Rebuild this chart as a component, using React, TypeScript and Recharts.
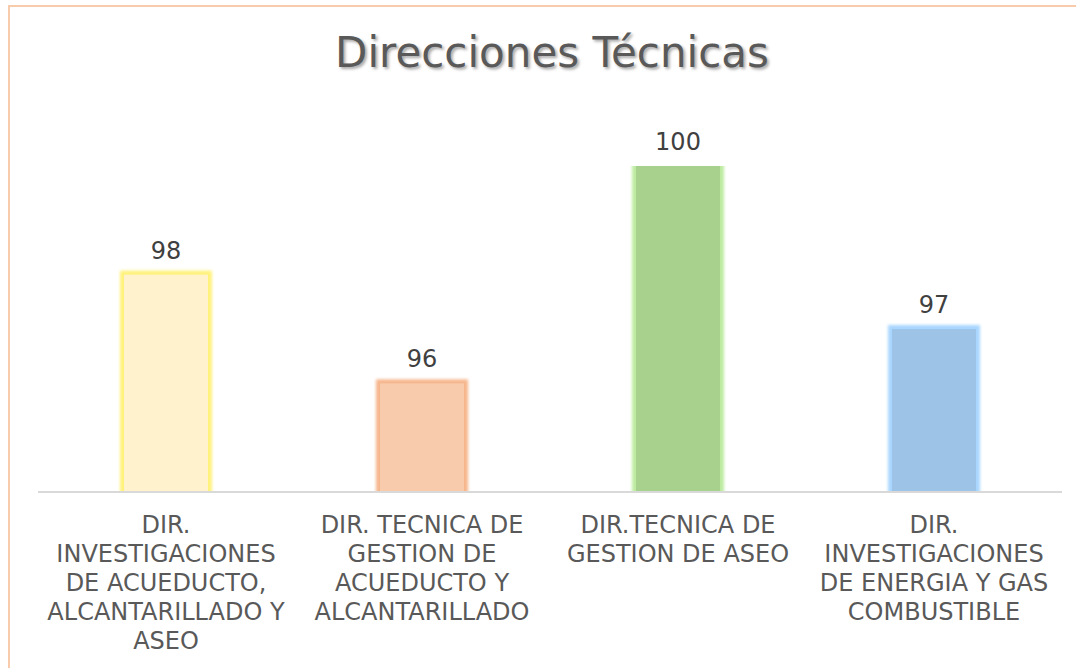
import React from "react";
import { BarChart, Bar, XAxis, YAxis, Cell, LabelList } from "recharts";

// categories keep the line breaks used in the original chart
const categories = [
  "DIR.\nINVESTIGACIONES\nDE ACUEDUCTO,\nALCANTARILLADO Y\nASEO",
  "DIR. TECNICA DE\nGESTION DE\nACUEDUCTO Y\nALCANTARILLADO",
  "DIR.TECNICA DE\nGESTION DE ASEO",
  "DIR.\nINVESTIGACIONES\nDE ENERGIA Y GAS\nCOMBUSTIBLE",
];
const values = [98, 96, 100, 97];
const fills = ["#FFF2CC", "#F8CBAD", "#A9D18E", "#9DC3E6"];
const glows = ["#FFF27A", "#F6B68C", "#BDEBA0", "#A8D6FF"];

const data = categories.map((name, i) => ({ name, value: values[i], idx: i }));

const FONT = "'DejaVu Sans', Verdana, sans-serif";

function GlowBar(props: any) {
  const { x, y, width, height, payload } = props;
  const i = payload?.idx ?? 0;
  return (
    <g>
      <rect
        x={x}
        y={y}
        width={width}
        height={height}
        fill="none"
        stroke={glows[i]}
        strokeWidth={8}
        filter="url(#glowBlur)"
      />
      <rect x={x} y={y} width={width} height={height} fill={fills[i]} />
    </g>
  );
}

function CategoryTick(props: any) {
  const { x, y, payload } = props;
  const lines = String(payload.value).split("\n");
  return (
    <text
      x={x}
      y={y}
      textAnchor="middle"
      fill="#595959"
      fontSize={24}
      fontFamily={FONT}
    >
      {lines.map((line, i) => (
        <tspan key={i} x={x} dy={i === 0 ? 41 : 29}>
          {line}
        </tspan>
      ))}
    </text>
  );
}

export default function App() {
  return (
    <div
      style={{
        position: "fixed",
        left: 0,
        top: 0,
        width: 1076,
        height: 668,
        overflow: "hidden",
        background: "#fff",
      }}
    >
      <div
        style={{
          position: "absolute",
          left: 8,
          top: 5,
          width: 1200,
          height: 800,
          border: "2px solid #F8CBAD",
        }}
      />
      <div
        style={{
          position: "absolute",
          left: 0,
          width: 1104,
          top: 28,
          textAlign: "center",
          fontFamily: FONT,
          fontSize: 42,
          color: "#595959",
          textShadow: "2px 2px 3px rgba(0,0,0,0.35)",
          lineHeight: "50px",
        }}
      >
        Direcciones Técnicas
      </div>
      <div style={{ position: "absolute", left: 0, top: 0 }}>
        <BarChart
          width={1076}
          height={668}
          data={data}
          margin={{ top: 166, right: 14, bottom: 0, left: 38 }}
          barSize={84}
        >
          <defs>
            <filter id="glowBlur" x="-20%" y="-20%" width="140%" height="140%">
              <feGaussianBlur stdDeviation={1.8} />
            </filter>
          </defs>
          <YAxis hide domain={[94, 100]} allowDataOverflow />
          <XAxis
            dataKey="name"
            height={176}
            interval={0}
            tickLine={false}
            tickSize={0}
            tickMargin={0}
            axisLine={{ stroke: "#D9D9D9", strokeWidth: 2 }}
            tick={<CategoryTick />}
          />
          <Bar dataKey="value" isAnimationActive={false} shape={<GlowBar />}>
            {data.map((d, i) => (
              <Cell key={i} fill={fills[i]} />
            ))}
            <LabelList
              dataKey="value"
              position="top"
              offset={16}
              fill="#404040"
              fontSize={24}
              fontFamily={FONT}
            />
          </Bar>
        </BarChart>
      </div>
    </div>
  );
}
